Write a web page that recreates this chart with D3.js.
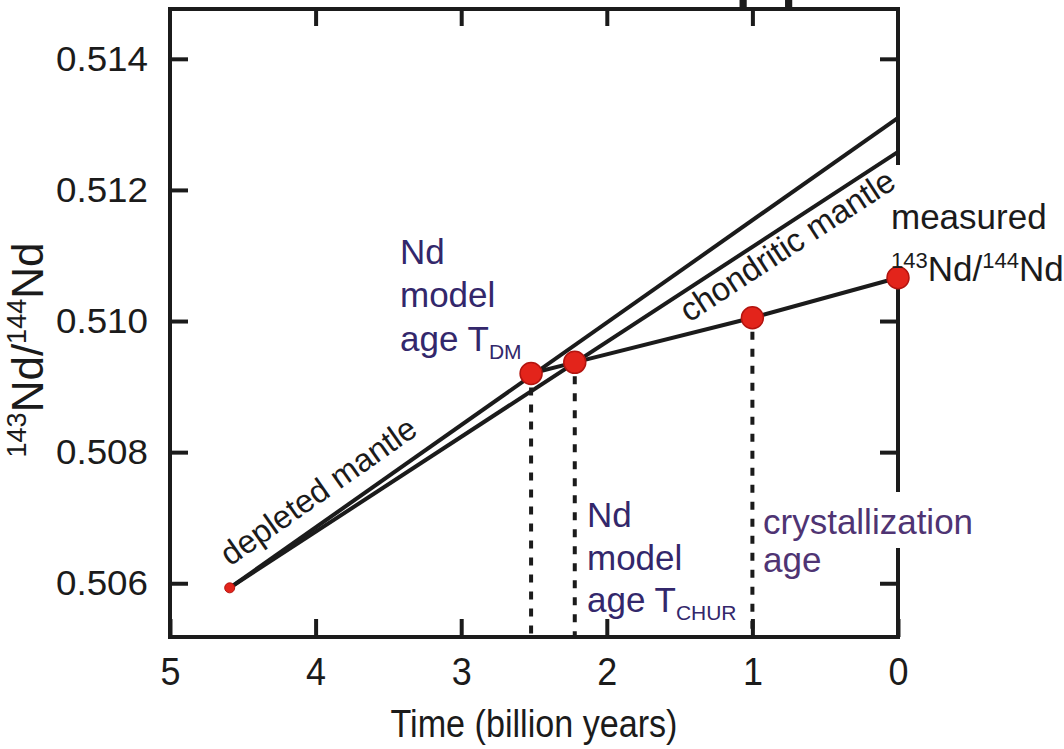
<!DOCTYPE html>
<html>
<head>
<meta charset="utf-8">
<script src="https://cdn.jsdelivr.net/npm/d3@7"></script>
<style>
  body { margin: 0; background: #fff; }
  text { font-family: "Liberation Sans", Arial, Helvetica, sans-serif; }
</style>
</head>
<body>
<script>
// time (billion years before present) and 143Nd/144Nd tick values
var timeTicks = [5, 4, 3, 2, 1, 0];
var ratioTicks = [0.506, 0.508, 0.510, 0.512, 0.514];

// reservoir growth lines, [time, ratio] from Earth formation to today
var depletedMantle = [[4.59, 0.50593], [0, 0.51310]];
var chondriticMantle = [[4.59, 0.50593], [0, 0.51258]];

// sample: measured today, crystallization, T_CHUR, T_DM
var sampleTime = [0, 1.0, 2.22, 2.52];
var sampleRatio = [0.51066, 0.51005, 0.50937, 0.50920];

var width = 1064, height = 749;
var frame = {left: 170, right: 898, top: 9, bottom: 637};
var ink = "#1b1b1b";

var x = d3.scaleLinear().domain([5, 0]).range([frame.left, frame.right]);
var y = d3.scaleLinear().domain([0.50518, 0.51476]).range([frame.bottom, frame.top]);

var svg = d3.select("body").append("svg")
    .attr("width", width)
    .attr("height", height);

// bit of the cut off title above the plot
svg.append("text")
    .attr("x", 734)
    .attr("y", -9)
    .style("font-size", "82px")
    .attr("fill", ink)
    .text("pp");

function styleAxis(g) {
  g.select(".domain").remove();
  g.selectAll(".tick line").attr("stroke", ink).attr("stroke-width", 4);
  g.selectAll(".tick text").attr("fill", ink).style("font-family", "'Liberation Sans', Arial, sans-serif");
}

svg.append("g")
    .attr("transform", "translate(" + frame.left + ",0)")
    .call(d3.axisLeft(y).tickValues(ratioTicks).tickSize(-18).tickPadding(22).tickFormat(d3.format(".3f")))
    .call(styleAxis)
    .selectAll(".tick text")
      .style("font-size", "35px")
      .attr("textLength", 92)
      .attr("lengthAdjust", "spacingAndGlyphs");

svg.append("g")
    .attr("transform", "translate(" + frame.right + ",0)")
    .call(d3.axisRight(y).tickValues(ratioTicks).tickSize(-18).tickFormat(""))
    .call(styleAxis);

svg.append("g")
    .attr("transform", "translate(0," + frame.top + ")")
    .call(d3.axisTop(x).tickValues([4, 3, 2, 1]).tickSize(-17).tickFormat(""))
    .call(styleAxis);

svg.append("g")
    .attr("transform", "translate(0," + frame.bottom + ")")
    .call(d3.axisBottom(x).tickValues(timeTicks).tickSize(-18).tickPadding(21).tickFormat(d3.format("d")))
    .call(styleAxis)
    .selectAll(".tick text")
      .style("font-size", "38px")
      .attr("textLength", 20)
      .attr("lengthAdjust", "spacingAndGlyphs");

svg.append("rect")
    .attr("x", frame.left)
    .attr("y", frame.top)
    .attr("width", frame.right - frame.left)
    .attr("height", frame.bottom - frame.top)
    .attr("fill", "none")
    .attr("stroke", ink)
    .attr("stroke-width", 4);

// white label backgrounds that hide parts of the right frame
svg.append("rect").attr("x", 878).attr("y", 165).attr("width", 186).attr("height", 106).attr("fill", "#fff");
svg.append("rect").attr("x", 757).attr("y", 492).attr("width", 233).attr("height", 56).attr("fill", "#fff");

// axis titles
svg.append("text")
    .attr("x", (frame.left + frame.right) / 2)
    .attr("y", 737)
    .attr("text-anchor", "middle")
    .attr("textLength", 287)
    .attr("lengthAdjust", "spacingAndGlyphs")
    .style("font-size", "38px")
    .attr("fill", ink)
    .text("Time (billion years)");

var yt = svg.append("text")
    .attr("transform", "translate(43,350) rotate(-90)")
    .attr("text-anchor", "middle")
    .style("font-size", "44px")
    .attr("fill", ink);
yt.append("tspan").style("font-size", "27px").attr("dy", -17).text("143");
yt.append("tspan").attr("dy", 17).text("Nd/");
yt.append("tspan").style("font-size", "27px").attr("dy", -17).text("144");
yt.append("tspan").attr("dy", 17).text("Nd");

// evolution lines
var line = d3.line()
    .x(function(d) { return x(d[0]); })
    .y(function(d) { return y(d[1]); });

var sample = sampleTime.map(function(t, i) { return [t, sampleRatio[i]]; });

[depletedMantle, chondriticMantle, sample].forEach(function(d) {
  svg.append("path")
      .attr("d", line(d))
      .attr("fill", "none")
      .attr("stroke", ink)
      .attr("stroke-width", 4);
});

// drop lines from the model ages and crystallization age
svg.selectAll(".drop")
    .data(sample.slice(1))
  .enter().append("line")
    .attr("class", "drop")
    .attr("x1", function(d) { return x(d[0]); })
    .attr("x2", function(d) { return x(d[0]); })
    .attr("y1", function(d) { return y(d[1]) + 14; })
    .attr("y2", frame.bottom)
    .attr("stroke", ink)
    .attr("stroke-width", 4)
    .attr("stroke-dasharray", "8,9");

svg.append("circle")
    .attr("cx", x(depletedMantle[0][0]))
    .attr("cy", y(depletedMantle[0][1]))
    .attr("r", 5)
    .attr("fill", "#e3241b")
    .attr("stroke", "#b3140f");

svg.selectAll(".pt")
    .data(sample)
  .enter().append("circle")
    .attr("class", "pt")
    .attr("cx", function(d) { return x(d[0]); })
    .attr("cy", function(d) { return y(d[1]); })
    .attr("r", 11)
    .attr("fill", "#e3241b")
    .attr("stroke", "#b3140f")
    .attr("stroke-width", 1.5);

// labels along the reservoir lines
function along(d, t, dy, size, label) {
  var a = Math.atan2(y(d[1][1]) - y(d[0][1]), x(d[1][0]) - x(d[0][0])) * 180 / Math.PI;
  var f = (d[0][0] - t) / (d[0][0] - d[1][0]);
  var v = d[0][1] + f * (d[1][1] - d[0][1]);
  svg.append("text")
      .attr("transform", "translate(" + x(t) + "," + y(v) + ") rotate(" + a + ")")
      .attr("y", dy)
      .style("font-size", size + "px")
      .attr("fill", ink)
      .text(label);
}
along(depletedMantle, 4.52, -17, 32.5, "depleted mantle");
along(chondriticMantle, 1.545, 29, 33, "chondritic mantle");

// annotations
function block(x0, y0, lines, color) {
  lines.forEach(function(l, i) {
    var t = svg.append("text")
        .attr("x", x0)
        .attr("y", y0[i])
        .style("font-size", "35px")
        .attr("fill", color);
    t.append("tspan").text(l[0]);
    if (l[1]) t.append("tspan").attr("dy", 8).style("font-size", "21px").text(l[1]);
  });
}
block(400, [264, 307, 351], [["Nd"], ["model"], ["age T", "DM"]], "#33276b");
block(587, [527, 570, 612], [["Nd"], ["model"], ["age T", "CHUR"]], "#33276b");
block(763, [534, 572], [["crystallization"], ["age"]], "#4f3473");

svg.append("text")
    .attr("x", 891)
    .attr("y", 229)
    .style("font-size", "35px")
    .attr("fill", ink)
    .text("measured");

var mt = svg.append("text")
    .attr("x", 891)
    .attr("y", 281)
    .style("font-size", "35px")
    .attr("fill", ink);
mt.append("tspan").style("font-size", "22px").attr("dy", -13).text("143");
mt.append("tspan").attr("dy", 13).text("Nd/");
mt.append("tspan").style("font-size", "22px").attr("dy", -13).text("144");
mt.append("tspan").attr("dy", 13).text("Nd");
</script>
</body>
</html>
